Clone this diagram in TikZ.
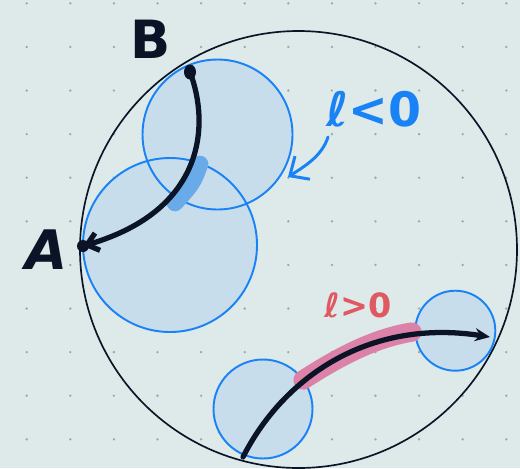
\documentclass[tikz,border=0pt]{standalone}
\usepackage{fontspec}
\setsansfont{DejaVu Sans}
\usepackage{tikz}
\usetikzlibrary{arrows.meta}
\definecolor{dbpaper}{RGB}{222,233,233}
\definecolor{dbdot}{RGB}{158,166,166}
\definecolor{dbink}{RGB}{10,20,38}
\definecolor{dbdisk}{RGB}{200,221,236}
\definecolor{dbrim}{RGB}{25,130,245}
\definecolor{dbglow}{RGB}{105,170,232}
\definecolor{dbpink}{RGB}{220,130,168}
\definecolor{dbred}{RGB}{224,88,98}
\tikzset{
  rim/.style={draw=dbrim, line width=1.1pt},
  stroke/.style={draw=dbink, line width=3pt, line cap=round},
  glow/.style={draw=dbglow, line width=9.5pt, line cap=round},
  band/.style={draw=dbpink, line width=11pt, line cap=round},
  hand/.style={font=\sffamily\bfseries, text=dbink, inner sep=0pt},
  note/.style={font=\sffamily\bfseries, inner sep=0pt},
  pointer/.style={-{Straight Barb[length=3mm,width=5.5mm]}, draw=dbrim, line width=1.7pt, line cap=round}
}
\begin{document}
\begin{tikzpicture}[x=0.02cm,y=-0.02cm]
  \useasboundingbox (0,0) rectangle (520,468);
  \clip (0,0) rectangle (520,468);
  \fill[dbpaper] (0,0) rectangle (520,468);
  % dot grid
  \foreach \i in {0,...,11}
    \foreach \j in {0,...,10}
      \fill[dbdot] (26.7+43.6*\i,3.3+43.6*\j) circle (1.3);
  % outer disc
  \draw[dbink, line width=0.95pt] (298.5,249.5) circle (218.5);
  % small discs: fills first, rims after
  \foreach \cx/\cy/\r in {217.5/134.5/75, 170/245/87, 263/409/49.5, 455.3/330.7/40}
    \fill[dbdisk] (\cx,\cy) circle (\r);
  \foreach \cx/\cy/\r in {217.5/134.5/75, 170/245/87, 263/409/49.5, 455.3/330.7/40}
    \draw[rim] (\cx,\cy) circle (\r);
  % highlights
  \draw[glow] (200,164) .. controls (193,183) .. (175,203);
  \draw[band] (303,380) .. controls (340,356) and (375,338) .. (412,332);
  % end points
  \coordinate (B) at (190,72);
  \coordinate (A) at (83,246);
  \coordinate (P) at (243,457);
  \coordinate (Q) at (490,337);
  \draw[stroke, -{Straight Barb[length=2.2mm,width=3.6mm]}] (B) .. controls (210,125) and (205,210) .. (A);
  \draw[stroke, -{Stealth[length=3mm,width=2.6mm]}] (P) .. controls (283,378) and (368,318) .. (Q);
  \fill[dbink] (A) circle (6);
  \fill[dbink] (B) ellipse (6 and 7.5);
  % labels
  \node[hand, font=\sffamily\bfseries\itshape\fontsize{31}{31}\selectfont] (labA) at (47,250) {A};
  \node[hand, font=\sffamily\bfseries\fontsize{30}{30}\selectfont] (labB) at (151,39) {B};
  \node[note, text=dbrim, font=\sffamily\bfseries\fontsize{27}{27}\selectfont] (neg) at (374,109) {ℓ<0};
  \node[note, text=dbred, font=\sffamily\bfseries\fontsize{19}{19}\selectfont] (pos) at (358,305) {ℓ>0};
  \coordinate (tail) at (328,137);
  \coordinate (tip) at (288,177);
  \draw[pointer] (tail) .. controls (322,156) and (305,166) .. (tip);
\end{tikzpicture}
\end{document}
